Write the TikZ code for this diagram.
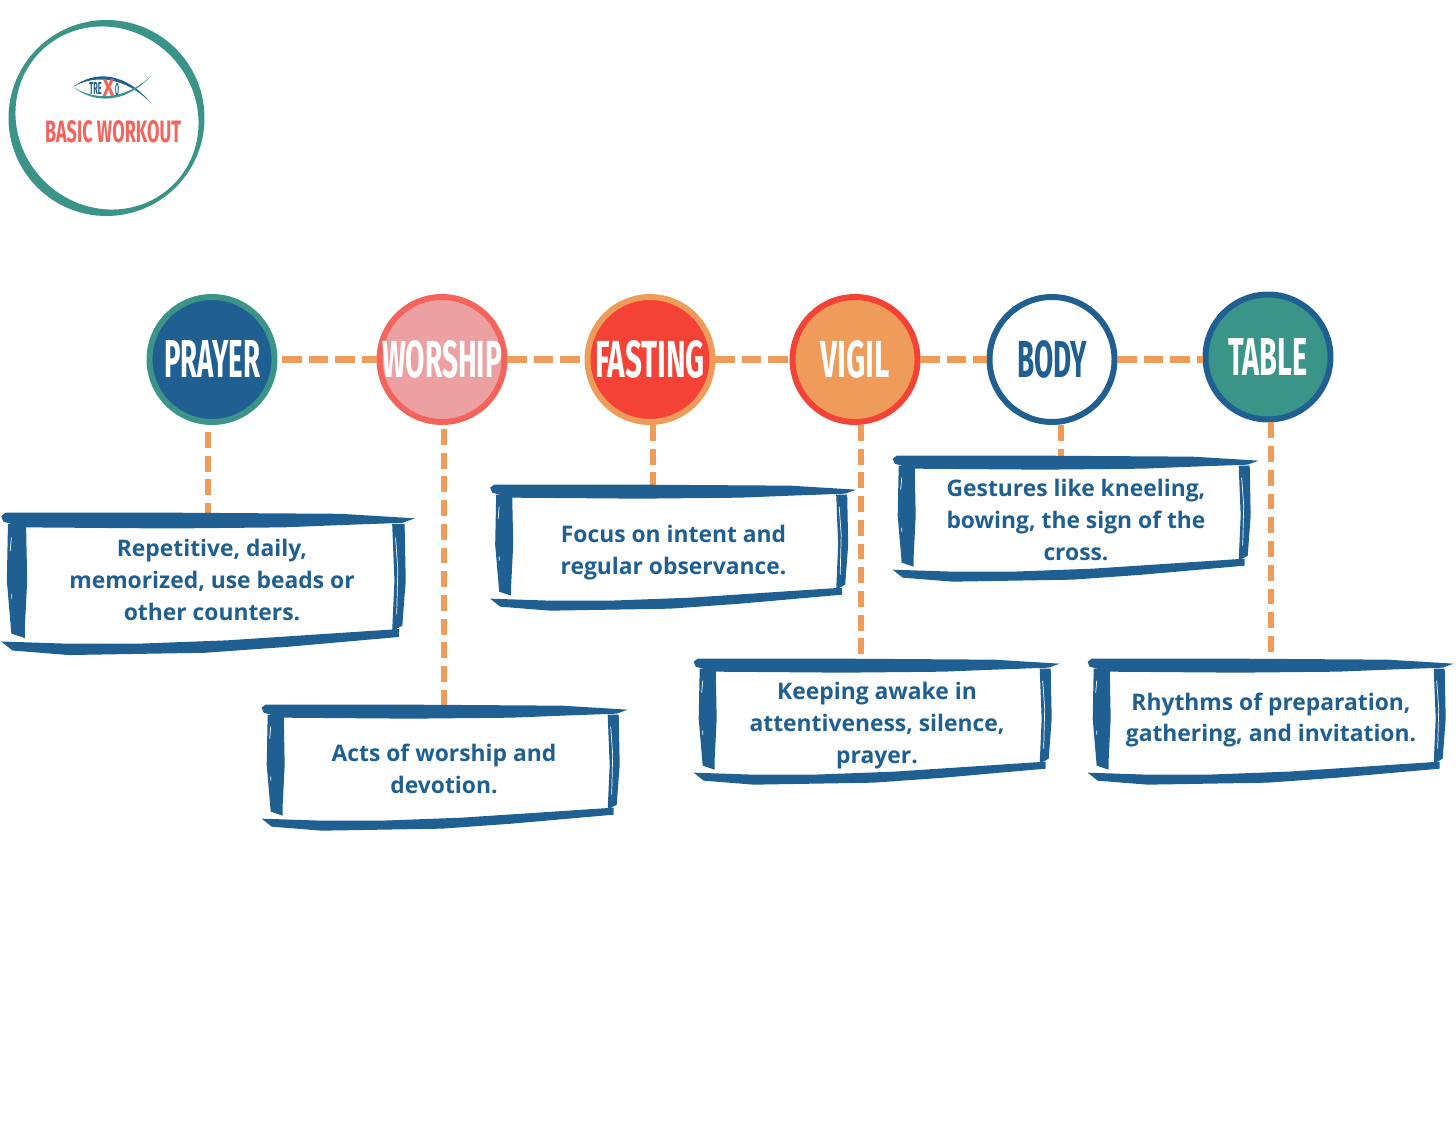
\documentclass[tikz,border=0pt]{standalone}
\usepackage{fontspec}
\setmainfont{Open Sans}
\newfontfamily\brushfont{Fira Sans}
\usetikzlibrary{calc}
\definecolor{navy}{HTML}{1F5F92}
\definecolor{teal}{HTML}{3A9488}
\definecolor{coral}{HTML}{F4635C}
\definecolor{blush}{HTML}{EDA0A2}
\definecolor{tomato}{HTML}{F44336}
\definecolor{sand}{HTML}{EF9C5B}
% title squeezed to a given width and height, in cm
\newcommand{\brushtitle}[3]{\makebox[0pt]{\resizebox{#1cm}{#2cm}{\brushfont\bfseries #3}}}
% the painted frame round a note
\newcommand{\brushframe}[3]{%
  \begin{scope}[shift={(#1.north west)},shift={(#3)},scale=#2]
    \fill[navy] (0,3) -- (4,0) -- (150,0) -- (300,1) -- (366,5) -- (355,9) -- (300,11) -- (250,13) -- (150,14) -- (20,13) -- (2,8) -- cycle;
    \fill[navy] (6,10) -- (22,10) -- (23,60) -- (21,100) -- (21,111) -- (9,107) -- (5,60) -- cycle;
    \fill[navy] (346,10) -- (357,10) -- (358,60) -- (355,100) -- (346,105) -- (348,60) -- cycle;
    \fill[navy] (0,114) -- (60,116) -- (120,116) -- (200,113) -- (352,103) -- (352,110) -- (250,119) -- (180,124) -- (60,126) -- (10,122) -- cycle;
    \draw[white, line width=0.4pt] (349,22) -- (351,50) -- (350,90);
    \draw[white, line width=0.4pt] (9,22) -- (8,34) (9,72) -- (9,76);
  \end{scope}}
\tikzset{
  stepdot/.style={circle, draw=#1, line width=3.4pt, minimum size=2.5cm, inner sep=0pt},
  note/.style={align=center, inner sep=0pt, minimum width=7.32cm, minimum height=2.52cm,
    text=navy, font=\fontsize{13}{18.2}\selectfont\bfseries},
  link/.style={draw=sand, line width=4pt, dash pattern=on 11pt off 4pt},
  uplink/.style={draw=sand, line width=3pt, dash pattern=on 9pt off 4.5pt}
}
\begin{document}
\begin{tikzpicture}[x=0.02cm, y=-0.02cm]
\useasboundingbox (0,0) rectangle (1456,1125);

% badge
\fill[teal, even odd rule] (106.5,118) circle[radius=98]
  (107,118) circle[x radius=94, y radius=89, rotate=-45];
\fill[navy] (73,87) .. controls (95,70) and (125,72) .. (151,103) .. controls (125,77) and (95,74) .. (73,87) -- cycle;
\fill[teal] (73,87) .. controls (95,104) and (125,104) .. (151,76) .. controls (125,100) and (95,101) .. (73,87) -- cycle;
\node[text=navy, inner sep=0pt] (tre) at (95.5,89) {\brushtitle{0.25}{0.24}{TRE}};
\node[text=coral, inner sep=0pt] (chi) at (108.5,88) {\brushtitle{0.24}{0.34}{X}};
\node[text=navy, inner sep=0pt] (omega) at (117,88) {\brushtitle{0.08}{0.3}{Ō}};
\node[text=coral, inner sep=0pt] (basic) at (113,132) {\brushtitle{2.72}{0.44}{BASIC WORKOUT}};

% steps
\node[stepdot=teal, fill=navy, text=white] (prayer) at (212,359.5) {\brushtitle{1.92}{0.74}{PRAYER}};
\node[stepdot=coral, fill=blush, text=white] (worship) at (442,359.5) {\brushtitle{2.4}{0.74}{WORSHIP}};
\node[stepdot=sand, fill=tomato, text=white] (fasting) at (650,359.5) {\brushtitle{2.2}{0.74}{FASTING}};
\node[stepdot=tomato, fill=sand, text=white] (vigil) at (855,359.5) {\brushtitle{1.38}{0.74}{VIGIL}};
\node[stepdot=navy, fill=white, text=navy] (body) at (1052,359.5) {\brushtitle{1.4}{0.74}{BODY}};
\node[stepdot=navy, fill=teal, text=white] (table) at (1268,357) {\brushtitle{1.58}{0.74}{TABLE}};

% notes
\node[note, minimum width=8.3cm, minimum height=2.68cm] (prayernote) at (212,580) {Repetitive, daily,\\memorized, use beads or\\other counters.};
\node[note] (worshipnote) at (444,769) {Acts of worship and\\devotion.};
\node[note] (fastingnote) at (673.5,553) {Focus on intent and\\regular observance.};
\node[note] (bodynote) at (1076,520) {Gestures like kneeling,\\bowing, the sign of the\\cross.};
\node[note] (vigilnote) at (877,726) {Keeping awake in\\attentiveness, silence,\\prayer.};
\node[note] (tablenote) at (1271,720) {Rhythms of preparation,\\gathering, and invitation.};

% links
\draw[link] (prayer.east) ++(5,0) -- (worship.west);
\draw[link] (worship.east) -- (fasting.west);
\draw[link] (fasting.east) -- (vigil.west);
\draw[link] (vigil.east) -- (body.west);
\draw[link] (body.east) -- (table.west |- body.east);
\draw[uplink] ([xshift=-0.08cm,yshift=-0.14cm]prayer.south) -- ([xshift=-0.08cm]prayer.south |- prayernote.north);
\draw[uplink] ([xshift=0.04cm,yshift=-0.08cm]worship.south) -- ([xshift=0.04cm]worship.south |- worshipnote.north);
\draw[uplink] ([xshift=0.06cm]fasting.south) -- ([xshift=0.06cm]fasting.south |- fastingnote.north);
\draw[uplink] ([xshift=0.12cm]vigil.south) -- ([xshift=0.12cm]vigil.south |- vigilnote.north);
\draw[uplink] ([xshift=0.18cm]body.south) -- ([xshift=0.18cm]body.south |- bodynote.north);
\draw[uplink] ([xshift=0.06cm]table.south) -- ([xshift=0.06cm]table.south |- tablenote.north);

\brushframe{prayernote}{1.13}{-3,0}
\brushframe{worshipnote}{1}{1,-1}
\brushframe{fastingnote}{1}{0,-5}
\brushframe{bodynote}{1}{0,-1}
\brushframe{vigilnote}{1}{0,-4}
\brushframe{tablenote}{1}{0,2}
\end{tikzpicture}
\end{document}
